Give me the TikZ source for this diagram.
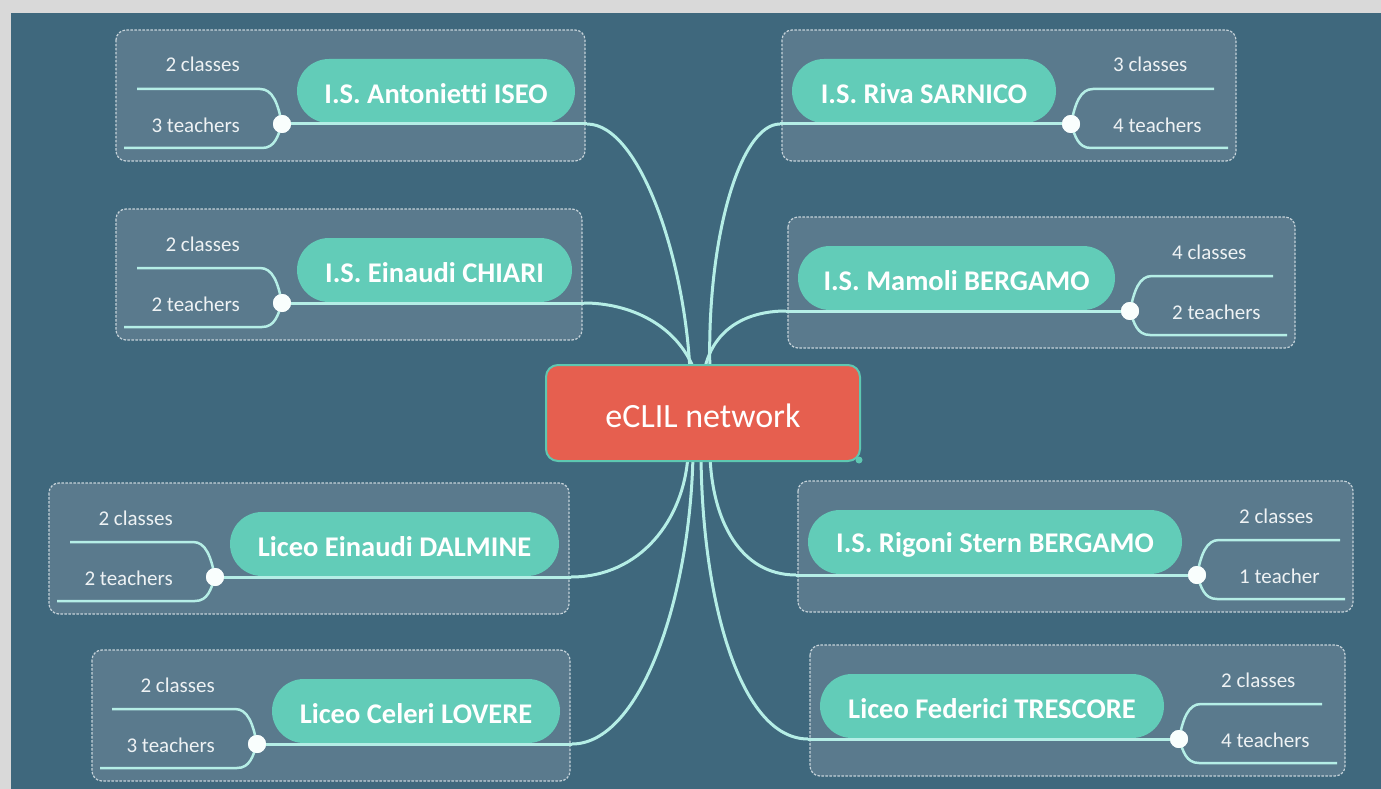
\documentclass[tikz,border=0pt]{standalone}
\usepackage{fontspec}
\setmainfont{Carlito}[Ligatures=NoCommon]
\definecolor{outerc}{HTML}{D9D9D9}
\definecolor{bgc}{HTML}{3F687D}
\definecolor{boxfill}{HTML}{5A7A8D}
\definecolor{boxline}{HTML}{C5D2D9}
\definecolor{pillc}{HTML}{62CCB8}
\definecolor{linec}{HTML}{B5EEE6}
\definecolor{centerfill}{HTML}{E65F4F}
\definecolor{centerline}{HTML}{5EC7B1}
\definecolor{lblc}{HTML}{EEF2F4}
\newcommand\lowertext[1]{\raisebox{-3pt}[\height][\depth]{#1}}
\tikzset{
  grpbox/.style={draw=boxline, dash pattern=on 2.5pt off 1.5pt, fill=boxfill, rounded corners=10pt, line width=1.2pt},
  pill/.style={fill=pillc, rounded corners=32pt, text=white, inner sep=0pt, minimum height=64pt,
    font=\fontsize{28.5}{30}\selectfont\bfseries},
  lbl/.style={text=lblc, inner sep=0pt, font=\fontsize{21}{24}\selectfont},
  conn/.style={draw=linec, line width=3pt},
  subline/.style={draw=linec, line width=2.5pt},
  knot/.style={circle, fill=white!92!linec, minimum size=18pt, inner sep=0pt},
  hub/.style={fill=centerfill, draw=centerline, line width=2pt, rounded corners=12pt, text=white,
    minimum width=314pt, minimum height=96pt, font=\fontsize{34}{36}\selectfont},
}
% #1 name, #2 dot x, #3 dot y, #4 pill right x, #5 box left offset, #6 text, #7 upper label, #8 lower label
\newcommand\leftgrp[8]{%
  \draw[grpbox] ({#2-#5},{#3-94}) rectangle ({#4+10},{#3+37});
  \node[pill, minimum width={#4-#2-15}] (#1) at ({(#2+15+#4)/2},{#3-33}) {\lowertext{#6}};
  \coordinate (#1e) at ({#4+12},#3);
  \coordinate (#1u) at ({#2-145},{#3-35});
  \coordinate (#1l) at ({#2-#5+8},{#3+24});
  \node[knot] (#1k) at (#2,#3) {};
  \draw[conn] (#1k.center) -- (#1e);
  \draw[subline] (#1k.center) .. controls ({#2-4},{#3-20}) and ({#2-9},{#3-35}) .. ({#2-22},{#3-35}) -- (#1u);
  \draw[subline] (#1k.center) .. controls ({#2-4},{#3+12}) and ({#2-7},{#3+24}) .. ({#2-20},{#3+24}) -- (#1l);
  \node[knot] at (#1k) {};
  \node[lbl, anchor=base east] (#1a) at ({#2-42},{#3-52}) {#7};
  \node[lbl, anchor=base east] (#1b) at ({#2-42},{#3+8}) {#8};
}
% #1 name, #2 dot x, #3 dot y, #4 pill left x, #5 box right offset, #6 text, #7 upper label, #8 lower label
\newcommand\rightgrp[8]{%
  \draw[grpbox] ({#4-10},{#3-94}) rectangle ({#2+#5},{#3+37});
  \node[pill, minimum width={#2-15-#4}] (#1) at ({(#2-15+#4)/2},{#3-33}) {\lowertext{#6}};
  \coordinate (#1e) at ({#4-12},#3);
  \coordinate (#1u) at ({#2+143},{#3-35});
  \coordinate (#1l) at ({#2+#5-8},{#3+24});
  \node[knot] (#1k) at (#2,#3) {};
  \draw[conn] (#1k.center) -- (#1e);
  \draw[subline] (#1k.center) .. controls ({#2+4},{#3-20}) and ({#2+9},{#3-35}) .. ({#2+22},{#3-35}) -- (#1u);
  \draw[subline] (#1k.center) .. controls ({#2+4},{#3+12}) and ({#2+7},{#3+24}) .. ({#2+20},{#3+24}) -- (#1l);
  \node[knot] at (#1k) {};
  \node[lbl, anchor=base west] (#1a) at ({#2+42},{#3-52}) {#7};
  \node[lbl, anchor=base west] (#1b) at ({#2+42},{#3+8}) {#8};
}
\begin{document}
\begin{tikzpicture}[x=1pt,y=-1pt]
\useasboundingbox (0,0) rectangle (1381,789);
\fill[outerc] (0,0) rectangle (1381,789);
\fill[bgc] (11,13) rectangle (1381,789);

\leftgrp{g1}{282}{124}{575}{166}{I.S. Antonietti ISEO}{2 classes}{3 teachers}
\leftgrp{g2}{282}{303}{572}{166}{I.S. Einaudi CHIARI}{2 classes}{2 teachers}
\leftgrp{g3}{215}{577}{559}{166}{Liceo Einaudi DALMINE}{2 classes}{2 teachers}
\leftgrp{g4}{257}{744}{560}{165}{Liceo Celeri LOVERE}{2 classes}{3 teachers}

\rightgrp{r1}{1071}{124}{792}{165}{I.S. Riva SARNICO}{3 classes}{4 teachers}
\rightgrp{r2}{1130}{311}{798}{165}{I.S. Mamoli BERGAMO}{4 classes}{2 teachers}
\rightgrp{r3}{1197}{575}{808}{156}{I.S. Rigoni Stern BERGAMO}{2 classes}{1 teacher}
\rightgrp{r4}{1179}{739}{820}{166}{Liceo Federici TRESCORE}{2 classes}{4 teachers}

% hub attachment points
\coordinate (t1) at (690,372);
\coordinate (t2) at (695,372);
\coordinate (t3) at (704,372);
\coordinate (t4) at (710,372);
\coordinate (b1) at (688,455);
\coordinate (b2) at (693,455);
\coordinate (b3) at (701,455);
\coordinate (b4) at (710,455);

\draw[conn] (g1e) .. controls (640,124) and (685,260) .. (t1);
\draw[conn] (g2e) .. controls (630,303) and (678,325) .. (t2);
\draw[conn] (r1e) .. controls (740,124) and (706,240) .. (t4);
\draw[conn] (r2e) .. controls (745,311) and (712,330) .. (t3);
\draw[conn] (g3e) .. controls (640,577) and (684,520) .. (b1);
\draw[conn] (g4e) .. controls (640,744) and (690,600) .. (b2);
\draw[conn] (r4e) .. controls (740,739) and (702,600) .. (b3);
\draw[conn] (r3e) .. controls (740,575) and (712,520) .. (b4);

\node[hub] (hub) at (703,413) {\lowertext{eCLIL network}};
\fill[centerline] (hub.south east) ++(-2,-2) circle (3.5);
\end{tikzpicture}
\end{document}
